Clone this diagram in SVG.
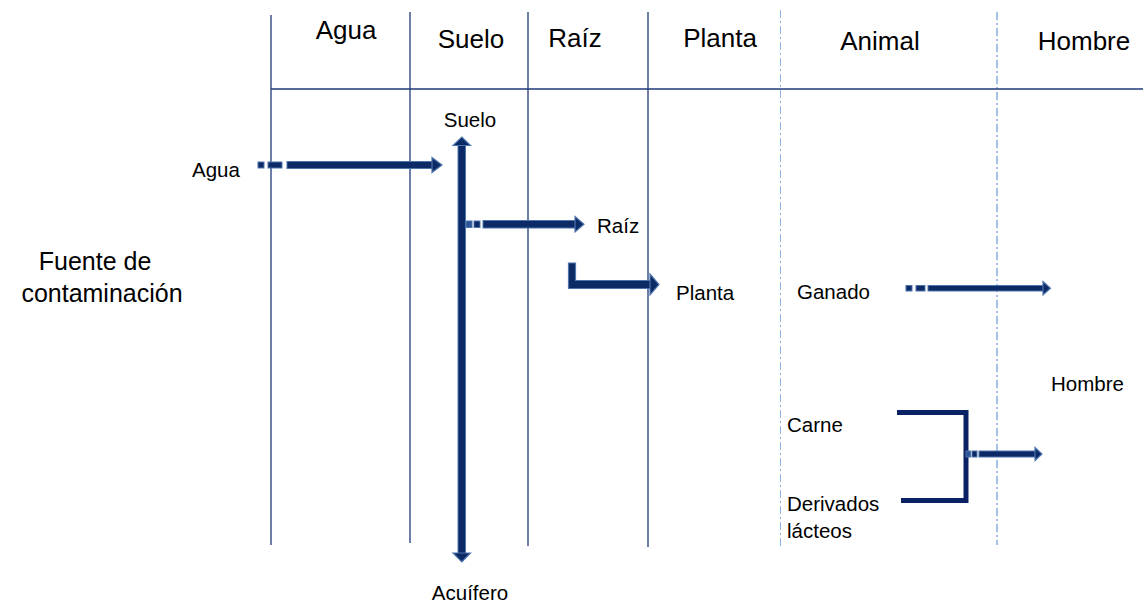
<svg xmlns="http://www.w3.org/2000/svg" width="1143" height="605" viewBox="0 0 1143 605">
<defs>
<style>
.grid{stroke:#1f3a78;stroke-width:1.3;fill:none}
.dd{stroke:#8db3e2;stroke-width:1.6;fill:none;stroke-dasharray:8 3 2 3}
.dd1{stroke:#8db3e2;stroke-width:1;fill:none;stroke-dasharray:8 3 2 3}
.hd{font-family:"Liberation Sans",Arial,sans-serif;font-size:26px;fill:#000}
.ft{font-family:"Liberation Sans",Arial,sans-serif;font-size:25px;fill:#000}
.lb{font-family:"Liberation Sans",Arial,sans-serif;font-size:20.5px;fill:#000}
.head{fill:#0b2a66;stroke:#4f75ad;stroke-width:1.2;stroke-linejoin:miter}
.bar{stroke:#0a2264;stroke-width:5;fill:none}
</style>
</defs>
<g id="grid">
<line class="grid" x1="271" y1="15" x2="271" y2="545"/>
<line class="grid" x1="410" y1="12" x2="410" y2="543"/>
<line class="grid" x1="528" y1="12" x2="528" y2="546"/>
<line class="grid" x1="648" y1="12" x2="648" y2="547"/>
<line class="dd1" x1="780.5" y1="10" x2="780.5" y2="548"/>
<line class="dd" x1="997" y1="12" x2="997" y2="545"/>
<line class="grid" x1="271" y1="89" x2="1143" y2="89"/>
</g>
<g id="headers">
<text class="hd" x="346" y="39" text-anchor="middle">Agua</text>
<text class="hd" x="471" y="48" text-anchor="middle">Suelo</text>
<text class="hd" x="575" y="47" text-anchor="middle">Raíz</text>
<text class="hd" x="720" y="47" text-anchor="middle">Planta</text>
<text class="hd" x="880" y="50" text-anchor="middle">Animal</text>
<text class="hd" x="1084" y="50" text-anchor="middle">Hombre</text>
</g>
<g id="fuente">
<text class="ft" x="95" y="270" text-anchor="middle">Fuente de</text>
<text class="ft" x="102" y="302" text-anchor="middle">contaminación</text>
</g>
<g id="labels">
<text class="lb" x="192" y="177">Agua</text>
<text class="lb" x="470" y="127" text-anchor="middle">Suelo</text>
<text class="lb" x="597" y="233">Raíz</text>
<text class="lb" x="676" y="300">Planta</text>
<text class="lb" x="797" y="299">Ganado</text>
<text class="lb" x="1051" y="391">Hombre</text>
<text class="lb" x="787" y="432">Carne</text>
<text class="lb" x="787" y="511">Derivados</text>
<text class="lb" x="787" y="538">lácteos</text>
<text class="lb" x="470" y="600" text-anchor="middle">Acuífero</text>
</g>
<g id="connectors">
<g id="arrow-agua">
<rect x="258" y="162" width="6" height="6" fill="#0b2a66" stroke="#4f75ad" stroke-width="1"/>
<rect x="268" y="162" width="14" height="6" fill="#0b2a66" stroke="#4f75ad" stroke-width="1"/>
<rect x="287" y="161.5" width="146" height="7" fill="#0b2a66" stroke="#4f75ad" stroke-width="1"/>
<polygon class="head" points="432,157.5 442,165 432,172.5"/>
</g>
<g id="arrow-suelo">
<rect x="458" y="144" width="7.5" height="410" fill="#0b2a66" stroke="#4f75ad" stroke-width="1"/>
<polygon class="head" points="453,145.5 461.8,137 470.5,145.5"/>
<polygon class="head" points="453,553 461.8,562 470.5,553"/>
</g>
<g id="arrow-raiz">
<rect x="466" y="221" width="6" height="6.5" fill="#2c5597" stroke="#4f75ad" stroke-width="1"/>
<rect x="474" y="221" width="6" height="6.5" fill="#0b2a66" stroke="#4f75ad" stroke-width="1"/>
<rect x="483" y="220.5" width="93" height="7.5" fill="#0b2a66" stroke="#4f75ad" stroke-width="1"/>
<polygon class="head" points="575,216.5 584,224.2 575,232"/>
</g>
<g id="arrow-planta">
<path d="M568.5,263 L575.5,263 L575.5,280.5 L651,280.5 L651,288.5 L568.5,288.5 Z" fill="#0b2a66" stroke="#4f75ad" stroke-width="1.2"/>
<polygon class="head" points="650,274 659,284.5 650,295"/>
</g>
<g id="arrow-ganado">
<rect x="906" y="285.5" width="6" height="5.5" fill="#0b2a66" stroke="#4f75ad" stroke-width="1"/>
<rect x="916" y="285.5" width="9" height="5.5" fill="#0b2a66" stroke="#4f75ad" stroke-width="1"/>
<rect x="928" y="285.5" width="116" height="5.5" fill="#0b2a66" stroke="#4f75ad" stroke-width="1"/>
<polygon class="head" points="1043,281.5 1050.5,288.2 1043,295"/>
</g>
<g id="bracket">
<path class="bar" d="M897,412.5 L966,412.5 L966,500.5 L901,500.5"/>
<rect x="966" y="451" width="4.5" height="6" fill="#2c5597" stroke="#4f75ad" stroke-width="1"/>
<rect x="972" y="451" width="5" height="6" fill="#0b2a66" stroke="#4f75ad" stroke-width="1"/>
<rect x="979" y="451" width="57" height="6" fill="#0b2a66" stroke="#4f75ad" stroke-width="1"/>
<polygon class="head" points="1035,447.5 1042,454 1035,460.5"/>
</g>
</g>
</svg>
